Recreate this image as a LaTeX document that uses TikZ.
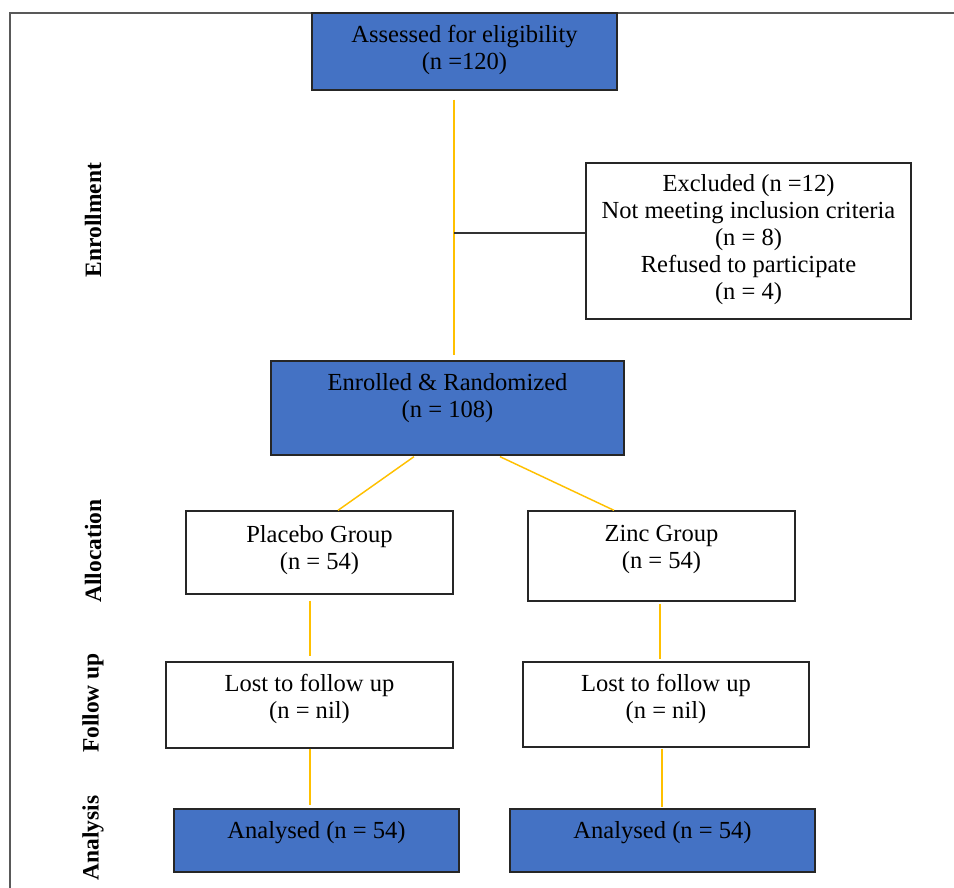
\documentclass[tikz,border=0pt]{standalone}
\usepackage{fontspec}
\setmainfont{Liberation Serif}
\definecolor{boxblue}{HTML}{4472C4}
\definecolor{linkyellow}{HTML}{FFC000}
\definecolor{framegray}{HTML}{595959}
\def\pxu{0.75pt}
\tikzset{
  box/.style={draw=black!85, line width=1pt, fill=white, inner sep=0pt},
  bluebox/.style={box, fill=boxblue},
  boxsize/.style 2 args={minimum width=#1*\pxu, minimum height=#2*\pxu},
  lbl/.style={anchor=north, align=center, inner sep=0pt, yshift=-13*\pxu,
    font=\fontsize{18.4}{20.25}\selectfont},
  phase/.style={rotate=90, inner sep=0pt, font=\bfseries\fontsize{17.6}{20}\selectfont},
  link/.style={draw=linkyellow, line width=1.1pt},
  tie/.style={draw=black!80, line width=1pt},
}
\begin{document}
\begin{tikzpicture}[x=\pxu, y=-\pxu]
\useasboundingbox (0,0) rectangle (954,888);
\draw[framegray, line width=1.5pt] (954,13) -- (10,13) -- (10,888);
\node[phase] (enrl) at (93,220) {Enrollment};
\node[phase] (alloc) at (93,551) {Allocation};
\node[phase] (follow) at (93,703) {Follow up};
\node[phase] (anal) at (93,838) {Analysis};
\node[bluebox, boxsize={305}{77}, label={[lbl]north:{Assessed for eligibility\\(n =120)}}] (assess) at (464.5,51.5) {};
\node[box, boxsize={325}{156}, label={[lbl, yshift=1*\pxu]north:{Excluded (n =12)\\Not meeting inclusion criteria\\(n = 8)\\Refused to participate\\(n = 4)}}] (excl) at (748.5,241) {};
\node[bluebox, boxsize={353}{94}, label={[lbl]north:{Enrolled \& Randomized\\(n = 108)}}] (enrol) at (447.5,408) {};
\node[box, boxsize={267}{83}, label={[lbl, yshift=-2*\pxu]north:{Placebo Group\\(n = 54)}}] (placebo) at (319.5,552.5) {};
\node[box, boxsize={267}{90}, label={[lbl, yshift=-2*\pxu]north:{Zinc Group\\(n = 54)}}] (zinc) at (661.5,556) {};
\node[box, boxsize={287}{86}, label={[lbl]north:{Lost to follow up\\(n = nil)}}] (lostA) at (309.5,705) {};
\node[box, boxsize={286}{85}, label={[lbl]north:{Lost to follow up\\(n = nil)}}] (lostB) at (666,704.5) {};
\node[bluebox, boxsize={285}{63}, label={[lbl]north:{Analysed (n = 54)}}] (anA) at (316.5,840.5) {};
\node[bluebox, boxsize={305}{63}, label={[lbl]north:{Analysed (n = 54)}}] (anB) at (662.5,840.5) {};
\draw[link] ([shift={(-10.5,9)}]assess.south) -- ([shift={(6.5,-5)}]enrol.north);
\coordinate (junc) at (454,233);
\draw[tie] (junc) -- (junc -| excl.west);
\draw[link] ([shift={(-33.5,1)}]enrol.south) -- ([shift={(18.5,0)}]placebo.north);
\draw[link] ([shift={(52.5,1)}]enrol.south) -- ([shift={(-47.5,0)}]zinc.north);
\draw[link] ([shift={(-9.5,6)}]placebo.south) -- ([shift={(0.5,-5)}]lostA.north);
\draw[link] ([shift={(0.5,0)}]lostA.south) -- ([shift={(-6.5,-3)}]anA.north);
\draw[link] ([shift={(-1.5,2)}]zinc.south) -- ([shift={(-6,-2)}]lostB.north);
\draw[link] ([shift={(-4,1)}]lostB.south) -- ([shift={(-0.5,-1)}]anB.north);
\end{tikzpicture}
\end{document}
